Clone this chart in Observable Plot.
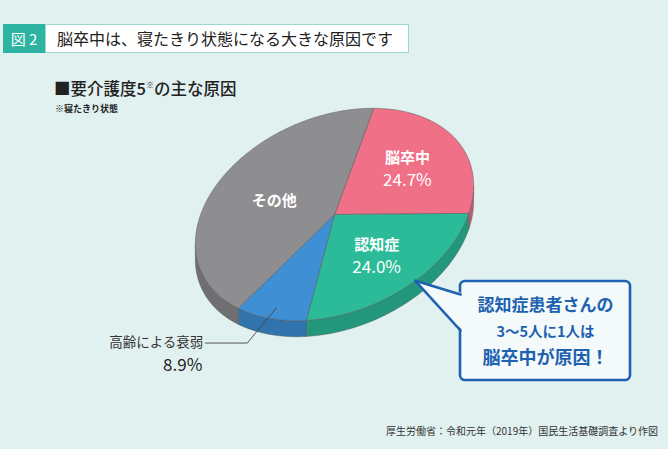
<!DOCTYPE html>
<html><head><meta charset="utf-8">
<script src="https://cdn.jsdelivr.net/npm/d3@7"></script>
<script src="https://cdn.jsdelivr.net/npm/@observablehq/plot@0.6"></script>
<style>
html,body{margin:0;padding:0;background:#e1f1f0;}
#wrap{position:relative;width:668px;height:449px;overflow:hidden;font-family:"Noto Sans CJK JP","Noto Sans",sans-serif;color:#222;}
#chart{position:absolute;left:0;top:0;}
.abs{position:absolute;white-space:nowrap;}
#fig{left:3px;top:24px;width:42px;height:29px;background:#2cb3a1;color:#fff;font-size:15px;line-height:29px;text-align:center;}
#ttl{left:45px;top:24px;width:351px;height:27px;background:#fff;border:1px solid #9bd8cf;font-size:16px;line-height:27px;padding-left:11px;box-sizing:content-box;}
#sub{left:54px;top:79px;height:18px;font-size:16.5px;line-height:18px;font-weight:500;}
#sub sup{font-size:8px;position:relative;top:-7px;vertical-align:baseline;line-height:0;}
#note{left:55px;top:103px;font-size:9px;font-weight:bold;line-height:11px;}
#src{right:10px;top:424px;font-size:10px;line-height:14px;color:#333;}
</style></head><body>
<div id="wrap">
<div id="chart"></div>
<div class="abs" id="fig">図 2</div>
<div class="abs" id="ttl">脳卒中は、寝たきり状態になる大きな原因です</div>
<div class="abs" id="sub">■要介護度5<sup>※</sup>の主な原因</div>
<div class="abs" id="note">※寝たきり状態</div>
<div class="abs" id="src">厚生労働省：令和元年（2019年）国民生活基礎調査より作図</div>
</div>
<script>
// ---- data ----
const categories = ["脳卒中", "認知症", "高齢による衰弱", "その他"];
const values = [24.7, 24.0, 8.9, 42.4];
const valueLabels = ["24.7%", "24.0%", "8.9%", ""];
const topColors = ["#f07087", "#2cbb99", "#3e8fd4", "#8e8e90"];
const sideColors = ["#c95a6d", "#23977b", "#3173ad", "#6f6f71"];
const calloutLines = ["認知症患者さんの", "3〜5人に1人は", "脳卒中が原因！"];

// ---- layout ----
const W = 668, H = 449;
const cx = 334, cy = 214, rx = 145, ry = 98, depth = 16;
const tilt = 22.5 * Math.PI / 180, ca = Math.cos(tilt), sa = Math.sin(tilt);
const start = 32 * Math.PI / 180;
const labelR = [0.6, 0.58, 0.9, 0.5];

function pt(t, r = 1, dz = 0) {
  const u = rx * r * Math.sin(t), v = -ry * r * Math.cos(t);
  return [cx + u * ca + v * sa, cy - u * sa + v * ca + dz];
}
function front(t) {
  const nu = Math.sin(t) / rx, nv = -Math.cos(t) / ry;
  return -nu * sa + nv * ca > 0;
}

const arcs = d3.pie().sort(null).startAngle(start).endAngle(start + 2 * Math.PI)(values);

const topRows = [], sideRows = [];
arcs.forEach((a, i) => {
  const n = Math.max(2, Math.ceil((a.endAngle - a.startAngle) / (Math.PI / 360)));
  const ts = d3.range(n + 1).map(j => a.startAngle + (a.endAngle - a.startAngle) * j / n);
  const c = pt(0, 0);
  topRows.push({k: i, x: c[0], y: c[1], fill: topColors[i]});
  ts.forEach(t => { const p = pt(t); topRows.push({k: i, x: p[0], y: p[1], fill: topColors[i]}); });
  topRows.push({k: i, x: c[0], y: c[1], fill: topColors[i]});
  const vis = ts.filter(front);
  if (vis.length >= 2) {
    vis.forEach(t => { const p = pt(t); sideRows.push({k: i, x: p[0], y: p[1], fill: sideColors[i]}); });
    vis.slice().reverse().forEach(t => { const p = pt(t, 1, depth); sideRows.push({k: i, x: p[0], y: p[1], fill: sideColors[i]}); });
    const p0 = pt(vis[0]); sideRows.push({k: i, x: p0[0], y: p0[1], fill: sideColors[i]});
  }
});

const mid = a => (a.startAngle + a.endAngle) / 2;
const inner = arcs.map((a, i) => ({i, p: pt(mid(a), labelR[i])})).filter(d => d.i !== 2);
const innerRows = inner.map(d => ({x: d.p[0], y: d.p[1], name: categories[d.i], val: valueLabels[d.i], two: valueLabels[d.i] !== ""}));

// leader for the small slice
const anchor = pt(mid(arcs[2]), labelR[2]);
const elbow = [anchor[0] - 29, anchor[1] + 35];
const lend = [elbow[0] - 42, elbow[1]];
const leader = [anchor, elbow, lend].map(p => ({x: p[0], y: p[1]}));

// callout
const tip = pt(mid(arcs[1]) - 4 * Math.PI / 180, 1.0);
const box = {x1: 460, x2: 630, y1: 281, y2: 380};
const tailTop = 294, tailBot = 330;
const tailFill = [{x: box.x1 + 3, y: tailTop - 1}, {x: tip[0], y: tip[1]}, {x: box.x1 + 3, y: tailBot + 1}];
const tailEdges = [
  {k: 0, x: box.x1, y: tailTop}, {k: 0, x: tip[0], y: tip[1]},
  {k: 1, x: tip[0], y: tip[1]}, {k: 1, x: box.x1, y: tailBot}
];
const bx = (box.x1 + box.x2) / 2;
const calloutRows = [
  {x: bx, y: 305, t: calloutLines[0], s: 17},
  {x: bx, y: 332, t: calloutLines[1], s: 14.5},
  {x: bx, y: 358, t: calloutLines[2], s: 18}
];
const blue = "#1d61b0";

const font = "Noto Sans CJK JP";
const chart = Plot.plot({
  width: W, height: H, margin: 0,
  x: {domain: [0, W], range: [0, W], axis: null},
  y: {domain: [0, H], range: [0, H], axis: null},
  color: {type: "identity"},
  style: {background: "transparent", fontFamily: font},
  marks: [
    Plot.line(sideRows, {x: "x", y: "y", z: "k", fill: "fill", stroke: "#4e4e50", strokeWidth: 0.6, strokeOpacity: 0.7}),
    Plot.line(topRows, {x: "x", y: "y", z: "k", fill: "fill", stroke: "#5a5a5c", strokeWidth: 0.7, strokeOpacity: 0.75}),
    Plot.text(innerRows.filter(d => d.two), {x: "x", y: "y", text: "name", dy: -11, fill: "#fff", fontSize: 15, fontWeight: "bold"}),
    Plot.text(innerRows.filter(d => !d.two), {x: "x", y: "y", text: "name", fill: "#fff", fontSize: 15, fontWeight: "bold"}),
    Plot.text(innerRows.filter(d => d.two), {x: "x", y: "y", text: "val", dy: 11, fill: "#fff", fontSize: 17}),
    Plot.line(leader, {x: "x", y: "y", stroke: "#444", strokeWidth: 0.9}),
    Plot.text([{x: lend[0], y: lend[1], t: categories[2]}], {x: "x", y: "y", text: "t", textAnchor: "end", dx: -2, fill: "#333", fontSize: 13.5}),
    Plot.text([{x: lend[0], y: lend[1], t: valueLabels[2]}], {x: "x", y: "y", text: "t", textAnchor: "end", dx: -3, dy: 23, fill: "#222", fontSize: 17}),
    Plot.rect([box], {x1: "x1", x2: "x2", y1: "y1", y2: "y2", rx: 5, fill: "#f4fafa", stroke: blue, strokeWidth: 2.6}),
    Plot.line(tailFill, {x: "x", y: "y", fill: "#f4fafa", stroke: "none"}),
    Plot.line(tailEdges, {x: "x", y: "y", z: "k", stroke: blue, strokeWidth: 2.6, strokeLinejoin: "miter"}),
    Plot.text(calloutRows, {x: "x", y: "y", text: "t", fontSize: "s", fontWeight: "bold", fill: blue})
  ]
});
document.getElementById("chart").appendChild(chart);
</script>
</body></html>
